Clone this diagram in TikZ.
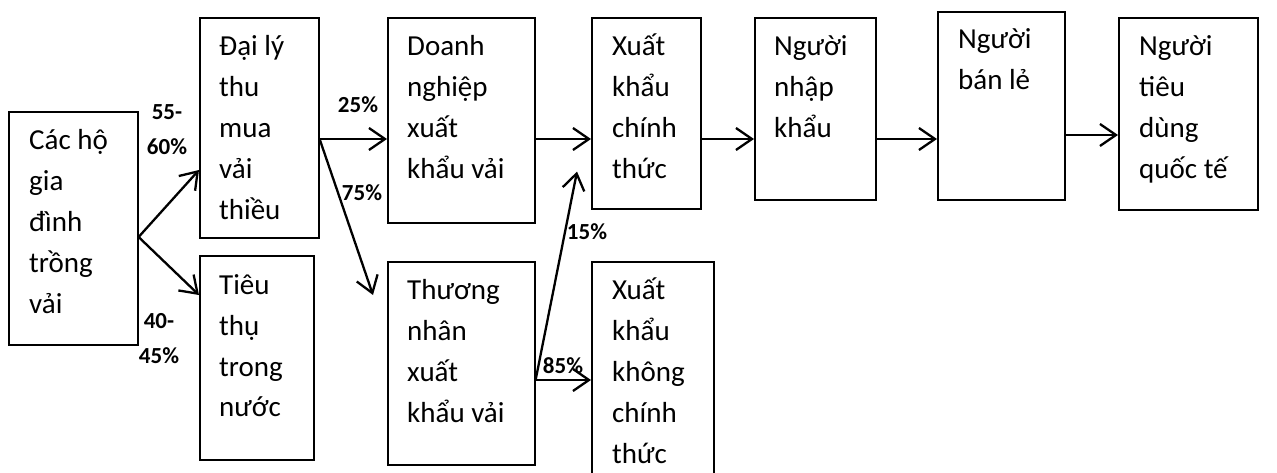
\documentclass[tikz,border=0pt]{standalone}
\usepackage{fontspec}
\setmainfont{Carlito}
\usetikzlibrary{arrows.meta,calc}
\newcommand\stk[1]{\vtop{\halign{##\hfil\cr#1\crcr}}}
\tikzset{
  box/.style={draw, line width=1.6pt, inner sep=0pt, anchor=north west},
  txt/.style={anchor=base west, inner sep=0pt, font=\fontsize{29}{41}\selectfont},
  pct/.style={anchor=base, inner sep=0pt, font=\fontsize{23}{33}\selectfont\bfseries},
  arr/.style={line width=2.3pt, -{Straight Barb[length=16pt,width=22pt,line width=2.3pt]}}
}
\begin{document}
\begin{tikzpicture}[x=1pt,y=-1pt]
\useasboundingbox (0,0) rectangle (1277,473);
\clip (0,0) rectangle (1277,473);
% boxes
\node[box, minimum width=129pt, minimum height=233pt] (A) at (8,111) {};
\node[box, minimum width=119pt, minimum height=220pt] (B) at (199,17) {};
\node[box, minimum width=114pt, minimum height=204pt] (C) at (199,255) {};
\node[box, minimum width=147pt, minimum height=205pt] (D) at (387,17) {};
\node[box, minimum width=109pt, minimum height=191pt] (E) at (591,17) {};
\node[box, minimum width=147pt, minimum height=203pt] (F) at (387,261) {};
\node[box, minimum width=122pt, minimum height=225pt] (G) at (591,261) {};
\node[box, minimum width=121pt, minimum height=182pt] (H) at (754,17) {};
\node[box, minimum width=127pt, minimum height=188pt] (I) at (937,11) {};
\node[box, minimum width=139pt, minimum height=192pt] (J) at (1118,17) {};
% texts
\node[txt] (At) at ($(A.north west)+(21,39)$) {\stk{Các hộ\cr gia\cr đình\cr trồng\cr vải}};
\node[txt] (Bt) at ($(B.north west)+(20,39)$) {\stk{Đại lý\cr thu\cr mua\cr vải\cr thiều}};
\node[txt] (Ct) at ($(C.north west)+(20,39)$) {\stk{Tiêu\cr thụ\cr trong\cr nước}};
\node[txt] (Dt) at ($(D.north west)+(20,39)$) {\stk{Doanh\cr nghiệp\cr xuất\cr khẩu vải}};
\node[txt] (Et) at ($(E.north west)+(21,39)$) {\stk{Xuất\cr khẩu\cr chính\cr thức}};
\node[txt] (Ft) at ($(F.north west)+(20,38)$) {\stk{Thương\cr nhân\cr xuất\cr khẩu vải}};
\node[txt] (Gt) at ($(G.north west)+(21,38)$) {\stk{Xuất\cr khẩu\cr không\cr chính\cr thức}};
\node[txt] (Ht) at ($(H.north west)+(20,39)$) {\stk{Người\cr nhập\cr khẩu}};
\node[txt] (It) at ($(I.north west)+(21,38)$) {\stk{Người\cr bán lẻ}};
\node[txt] (Jt) at ($(J.north west)+(21,39)$) {\stk{Người\cr tiêu\cr dùng\cr quốc tế}};
% junctions
\coordinate (a1) at ($(A.north east)+(0,126)$);
\coordinate (b1) at ($(B.north east)+(0,122)$);
\coordinate (f1) at ($(F.north east)+(0,119)$);
\coordinate (ftip) at ($(F.north west)+(-14,34)$);
% arrows
\draw[arr] (a1) -- ($(B.north west)+(0,153)$);
\draw[arr] (a1) -- ($(C.north west)+(0,40)$);
\draw[arr] (b1) -- ($(D.north west)+(0,122)$);
\draw[arr] (b1) -- (ftip);
\draw[arr] ($(D.north east)+(0,122)$) -- ($(E.north west)+(0,122)$);
\draw[arr] ($(E.north east)+(0,122)$) -- ($(H.north west)+(0,122)$);
\draw[arr] ($(H.north east)+(0,122)$) -- ($(I.north west)+(0,128)$);
\draw[arr] ($(I.north east)+(0,124)$) -- ($(J.north west)+(0,118)$);
\draw[arr] (f1) -- ($(G.north west)+(0,119)$);
\draw[arr] (f1) -- ($(E.south west)+(-14,-38)$);
% percentages
\node[pct] (p1) at (167,120) {55-};
\node[pct] (p2) at (167,155) {60\%};
\node[pct] (p3) at (159,328) {40-};
\node[pct] (p4) at (159,363) {45\%};
\node[pct] (p5) at (358,113) {25\%};
\node[pct] (p6) at (362,201) {75\%};
\node[pct] (p7) at (587,240) {15\%};
\node[pct] (p8) at (563,373) {85\%};
\end{tikzpicture}
\end{document}
